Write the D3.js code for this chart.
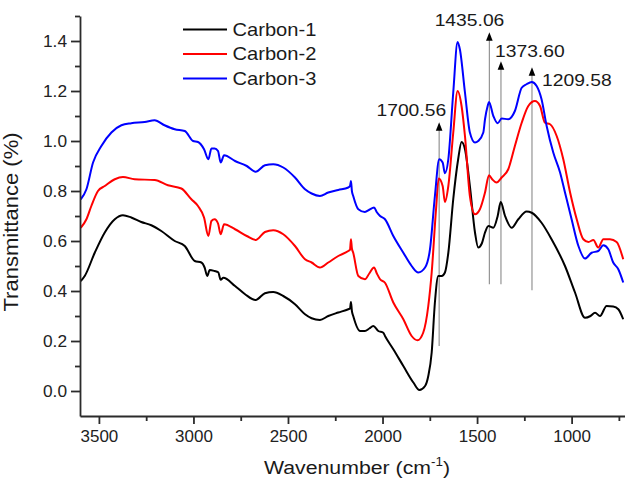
<!DOCTYPE html>
<html><head><meta charset="utf-8">
<script src="https://cdn.jsdelivr.net/npm/d3@7"></script>
<style>
html,body{margin:0;padding:0;background:#fff;}
svg{display:block;font-family:"Liberation Sans",Arial,sans-serif;}
</style></head>
<body><svg id="chart" width="625" height="478"></svg>
<script>
// ---------- data ----------
const seriesNames = ["Carbon-1", "Carbon-2", "Carbon-3"];
const seriesColors = ["#000000", "#ff0000", "#0000ff"];

const wnCarbon1 = [3596,3575,3522,3469,3416,3373,3329,3276,3223,3170,3099,3046,2993,2958,2941,2927,2914,2888,2869,2856,2842,2780,2727,2671,2622,2578,2525,2463,2410,2375,2331,2287,2234,2181,2172,2167,2162,2155,2119,2093,2070,2049,2022,1996,1987,1943,1890,1837,1805,1775,1758,1740,1723,1705,1687,1670,1652,1626,1600,1582,1564,1538,1511,1494,1475,1458,1440,1414,1391,1375,1352,1317,1282,1238,1211,1159,1106,1035,982,929,900,876,850,815,780,753,727];
const valCarbon1 = [0.44,0.46,0.553,0.634,0.687,0.703,0.694,0.676,0.663,0.64,0.60,0.58,0.52,0.514,0.494,0.46,0.484,0.48,0.475,0.445,0.453,0.42,0.387,0.364,0.391,0.396,0.38,0.347,0.307,0.291,0.284,0.30,0.314,0.327,0.33,0.356,0.32,0.30,0.24,0.24,0.25,0.26,0.24,0.233,0.22,0.167,0.10,0.034,0.004,0.02,0.06,0.154,0.354,0.46,0.46,0.474,0.553,0.767,0.927,0.996,0.967,0.82,0.634,0.574,0.59,0.634,0.66,0.653,0.70,0.756,0.70,0.653,0.687,0.718,0.713,0.673,0.607,0.50,0.394,0.293,0.30,0.313,0.30,0.34,0.338,0.327,0.287];

const wnCarbon2 = [3596,3566,3540,3505,3469,3416,3373,3311,3205,3135,3064,3011,2976,2944,2921,2905,2888,2870,2856,2838,2780,2718,2671,2622,2578,2525,2463,2410,2375,2331,2287,2234,2181,2172,2167,2162,2155,2128,2093,2070,2045,2030,2013,1987,1943,1890,1846,1815,1785,1758,1740,1717,1703,1682,1670,1652,1626,1603,1582,1564,1538,1511,1485,1458,1437,1420,1397,1370,1335,1300,1264,1229,1194,1167,1141,1114,1079,1044,1008,973,938,911,885,859,832,797,762,727];
const valCarbon2 = [0.653,0.687,0.74,0.80,0.82,0.847,0.856,0.847,0.844,0.823,0.81,0.767,0.74,0.694,0.62,0.68,0.687,0.67,0.627,0.667,0.647,0.62,0.604,0.636,0.643,0.627,0.58,0.527,0.514,0.494,0.514,0.54,0.56,0.565,0.607,0.57,0.553,0.46,0.447,0.47,0.494,0.47,0.447,0.433,0.354,0.287,0.22,0.203,0.233,0.34,0.474,0.727,0.85,0.82,0.756,0.82,1.033,1.20,1.14,1.02,0.78,0.707,0.727,0.794,0.863,0.847,0.834,0.854,0.887,0.98,1.073,1.14,1.16,1.14,1.073,1.067,1.02,0.927,0.794,0.687,0.607,0.596,0.604,0.574,0.607,0.607,0.596,0.527];

const wnCarbon3 = [3596,3566,3531,3487,3434,3381,3329,3258,3205,3153,3099,3046,3002,2976,2944,2921,2905,2888,2870,2856,2838,2780,2718,2671,2622,2578,2525,2463,2410,2375,2331,2287,2234,2181,2172,2167,2162,2155,2128,2093,2070,2045,2030,2013,1987,1943,1890,1846,1811,1775,1749,1723,1700,1682,1670,1652,1626,1603,1591,1564,1538,1511,1494,1467,1458,1444,1437,1414,1391,1370,1335,1300,1264,1238,1211,1185,1159,1132,1097,1061,1035,1000,964,929,894,859,832,806,780,753,727];
const valCarbon3 = [0.767,0.807,0.914,0.98,1.034,1.063,1.071,1.076,1.083,1.063,1.047,1.04,1.0,0.996,0.967,0.927,0.97,0.97,0.96,0.914,0.943,0.92,0.90,0.877,0.903,0.907,0.894,0.854,0.807,0.79,0.78,0.794,0.804,0.814,0.82,0.84,0.80,0.78,0.727,0.716,0.725,0.734,0.715,0.70,0.687,0.62,0.553,0.50,0.474,0.494,0.567,0.78,0.927,0.914,0.871,0.927,1.194,1.396,1.367,1.194,1.034,0.994,1.0,1.034,1.087,1.14,1.156,1.10,1.071,1.09,1.087,1.12,1.213,1.227,1.236,1.22,1.167,1.06,0.954,0.874,0.794,0.687,0.58,0.53,0.553,0.56,0.583,0.567,0.514,0.487,0.434];

const xMajorTicks = [3500, 3000, 2500, 2000, 1500, 1000];
const xMinorTicks = [3250, 2750, 2250, 1750, 1250, 750];
const yMajorTicks = [0.0, 0.2, 0.4, 0.6, 0.8, 1.0, 1.2, 1.4];
const yMinorTicks = [0.1, 0.3, 0.5, 0.7, 0.9, 1.1, 1.3, 1.5];

const peakLabels = ["1700.56", "1435.06", "1373.60", "1209.58"];
const peakWavenumbers = [1700.56, 1435.06, 1373.60, 1209.58];
const peakArrowTop = [1.075, 1.435, 1.319, 1.295];
const peakArrowBottom = [0.18, 0.427, 0.427, 0.403];

const xTitle = "Wavenumber (cm";
const yTitle = "Transmittance (%)";

// ---------- layout ----------
const svg = d3.select("#chart");
const x = d3.scaleLinear().domain([3600, 700]).range([80, 80 + 2900 * 0.18908]);
const y = d3.scaleLinear().domain([-0.1, 1.5]).range([416, 16]);
const axisColor = "#2b2b2b";

function stretch(sel, k) {
  sel.each(function () {
    const t = d3.select(this);
    const tx = +t.attr("x") || 0, ty = +t.attr("y") || 0;
    t.attr("transform", `translate(${tx},${ty}) scale(${k},1) translate(${-tx},${-ty})`);
  });
}

// annotation arrows (under curves)
const arrows = svg.append("g");
peakWavenumbers.forEach((w, i) => {
  const ax = x(w), top = y(peakArrowTop[i]), bot = y(peakArrowBottom[i]);
  arrows.append("line").attr("x1", ax).attr("x2", ax).attr("y1", top + 6).attr("y2", bot)
    .attr("stroke", "#8a8a8a").attr("stroke-width", 1.1);
});

// curves
const allWn = [wnCarbon1, wnCarbon2, wnCarbon3];
const allVal = [valCarbon1, valCarbon2, valCarbon3];
const line = d3.line().x(d => x(d[0])).y(d => y(d[1])).curve(d3.curveMonotoneX);
allWn.forEach((wn, i) => {
  const pts = wn.map((w, j) => [w, allVal[i][j]]);
  svg.append("path").datum(pts).attr("d", line)
    .attr("fill", "none").attr("stroke", seriesColors[i]).attr("stroke-width", 2)
    .attr("stroke-linejoin", "round");
});

// arrowheads + labels
const labelOffsets = [
  {dx: 7, dy: -6, anchor: "end"},
  {dx: 15, dy: -6, anchor: "end"},
  {dx: -6, dy: -4, anchor: "start"},
  {dx: 10, dy: 18.5, anchor: "start"}
];
peakWavenumbers.forEach((w, i) => {
  const ax = x(w), top = y(peakArrowTop[i]);
  svg.append("path").attr("d", `M${ax},${top} L${ax - 3.3},${top + 8.5} L${ax + 3.3},${top + 8.5} Z`)
    .attr("fill", "#000");
  const o = labelOffsets[i];
  svg.append("text").attr("x", ax + o.dx).attr("y", top + o.dy)
    .attr("text-anchor", o.anchor).attr("font-size", 16.5).attr("fill", "#1a1a1a")
    .text(peakLabels[i]).call(stretch, 1.17);
});

// axes
const xAxis = svg.append("g").attr("transform", "translate(0,416)")
  .call(d3.axisBottom(x).tickValues(xMajorTicks).tickFormat(d3.format("d"))
    .tickSize(8).tickPadding(7).tickSizeOuter(0));
svg.append("g").attr("transform", "translate(0,416)")
  .call(d3.axisBottom(x).tickValues(xMinorTicks).tickFormat("").tickSize(5).tickSizeOuter(0))
  .call(g => g.select(".domain").remove());
const yAxis = svg.append("g").attr("transform", "translate(80,0)")
  .call(d3.axisLeft(y).tickValues(yMajorTicks).tickFormat(d3.format(".1f"))
    .tickSize(9).tickPadding(4).tickSizeOuter(0));
svg.append("g").attr("transform", "translate(80,0)")
  .call(d3.axisLeft(y).tickValues(yMinorTicks).tickFormat("").tickSize(5).tickSizeOuter(0))
  .call(g => g.select(".domain").remove());

svg.selectAll(".domain, .tick line").attr("stroke", axisColor).attr("stroke-width", 1.8);
svg.selectAll(".tick text").attr("font-size", 16).attr("fill", "#222")
  .attr("font-family", "'Liberation Sans', Arial, sans-serif");
xAxis.selectAll(".tick text").call(stretch, 1.06);
yAxis.selectAll(".tick text").call(stretch, 1.08);

// legend
const legend = svg.append("g");
seriesNames.forEach((name, i) => {
  const ly = 29.5 + i * 24.5;
  legend.append("line").attr("x1", 183).attr("x2", 227).attr("y1", ly).attr("y2", ly)
    .attr("stroke", seriesColors[i]).attr("stroke-width", 2);
  legend.append("text").attr("x", 232.5).attr("y", ly).attr("dy", "0.35em")
    .attr("font-size", 17.5).attr("fill", "#1a1a1a").text(name).call(stretch, 1.15);
});

// axis titles
const xt = svg.append("text").attr("transform", "translate(357,474) scale(1.12,1)")
  .attr("text-anchor", "middle").attr("font-size", 19).attr("fill", "#1a1a1a");
xt.append("tspan").text(xTitle);
xt.append("tspan").attr("dy", -8).attr("font-size", 12).text("-1");
xt.append("tspan").attr("dy", 8).text(")");

svg.append("text").attr("transform", "translate(18,222) rotate(-90) scale(1.13,1)")
  .attr("text-anchor", "middle").attr("font-size", 19.5).attr("fill", "#1a1a1a").text(yTitle);
</script></body></html>
